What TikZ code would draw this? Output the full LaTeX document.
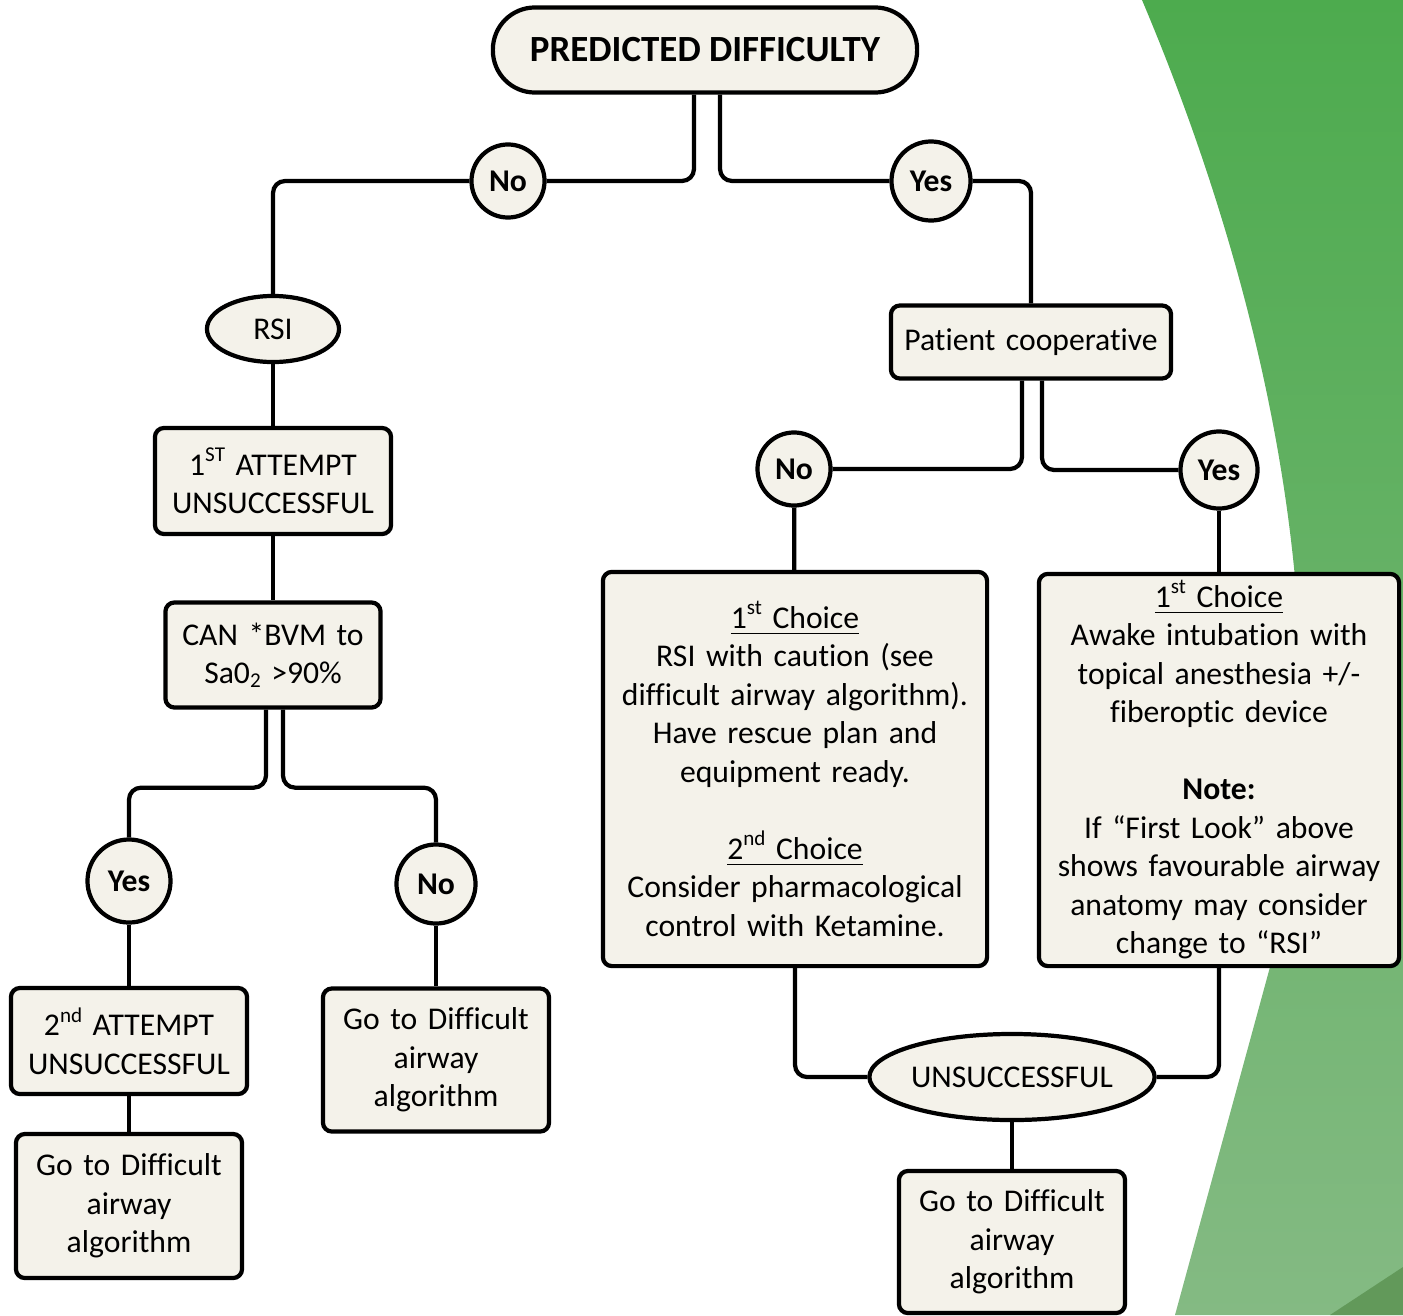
\documentclass[tikz,border=0pt]{standalone}
\usepackage{fontspec}
\setmainfont{Carlito}[Ligatures=NoCommon]
\usetikzlibrary{shapes.geometric}
\scriptspace=0pt
\definecolor{boxfill}{HTML}{F4F2EA}
\definecolor{greenA}{HTML}{4DAB4E}
\definecolor{greenB}{HTML}{84BA83}
\definecolor{greenC}{HTML}{62995A}

\begin{document}
\begin{tikzpicture}[x=0.01cm,y=-0.01cm,
  box/.style={draw,fill=boxfill,line width=1.2pt,rounded corners=0.09cm,align=center,inner sep=0pt,font=\fontsize{9}{10.95}\selectfont},
  yn/.style={draw,fill=boxfill,line width=1.2pt,circle,inner sep=0pt,font=\bfseries\fontsize{9}{10.95}\selectfont},
  oval/.style={draw,fill=boxfill,line width=1.2pt,ellipse,inner sep=0pt,font=\fontsize{9}{10.95}\selectfont},
  conn/.style={line width=1.2pt,rounded corners=0.12cm}]
  \useasboundingbox (0,0) rectangle (1403,1315);

  % Green backdrop
  \shade[top color=greenA,bottom color=greenB] (1142,0) .. controls (1290,350) and (1340,700) .. (1270,967) -- (1175,1315) -- (1403,1315) -- (1403,0) -- cycle;
  \fill[greenC] (1330,1315) -- (1403,1267) -- (1403,1315) -- cycle;

  % Top
  \node[box,rounded corners=0.42cm,minimum width=4.24cm,minimum height=0.85cm,font=\bfseries\fontsize{10.5}{12}\selectfont] (pred) at (705,50) {PREDICTED DIFFICULTY};
  \node[yn,minimum size=0.73cm] (no1) at (508,181) {No};
  \node[yn,minimum size=0.79cm] (yes1) at (931,181) {Yes};

  % Left branch
  \node[oval,minimum width=1.32cm,minimum height=0.66cm] (rsi) at (273,329) {RSI};
  \node[box,text width=2.36cm,minimum height=1.06cm] (att1) at (273,481) {1\textsuperscript{ST} ATTEMPT\\UNSUCCESSFUL};
  \node[box,text width=2.15cm,minimum height=1.05cm] (bvm) at (273,655) {CAN *BVM to\\Sa0\textsubscript{2} >90\%};
  \node[yn,minimum size=0.83cm] (yes2) at (129,881) {Yes};
  \node[yn,minimum size=0.79cm] (no2) at (436,884) {No};
  \node[box,text width=2.36cm,minimum height=1.06cm] (att2) at (129,1041) {2\textsuperscript{nd} ATTEMPT\\UNSUCCESSFUL};
  \node[box,text width=2.26cm,minimum height=1.44cm] (diff1) at (129,1206) {Go to Difficult\\airway\\algorithm};
  \node[box,text width=2.26cm,minimum height=1.43cm] (diff2) at (436,1060) {Go to Difficult\\airway\\algorithm};

  % Right branch
  \node[box,text width=2.80cm,minimum height=0.73cm] (coop) at (1031,342) {Patient cooperative};
  \node[yn,minimum size=0.73cm] (no3) at (794,469) {No};
  \node[yn,minimum size=0.77cm] (yes3) at (1219,470) {Yes};
  \node[box,text width=3.84cm,minimum height=3.94cm] (first1) at (795,769) {\underline{1\textsuperscript{st} Choice}\\RSI with caution (see\\difficult airway algorithm).\\Have rescue plan and\\equipment ready.\\[10.95pt]\underline{2\textsuperscript{nd} Choice}\\Consider pharmacological\\control with Ketamine.};
  \node[box,text width=3.60cm,minimum height=3.92cm] (first2) at (1219,770) {\underline{1\textsuperscript{st} Choice}\\Awake intubation with\\topical anesthesia +/-\\fiberoptic device\\[10.95pt]\textbf{Note:}\\If “First Look” above\\shows favourable airway\\anatomy may consider\\change to “RSI”};
  \node[oval,minimum width=2.64cm,minimum height=0.86cm] (unsucc) at (1012,1077) {UNSUCCESSFUL};
  \node[box,text width=2.26cm,minimum height=1.42cm] (diff3) at (1012,1242) {Go to Difficult\\airway\\algorithm};

  % Connectors
  \draw[conn] ([xshift=-0.11cm]pred.south) |- (no1);
  \draw[conn] (no1) -| (rsi);
  \draw[conn] ([xshift=0.15cm]pred.south) |- (yes1);
  \draw[conn] (yes1) -| (coop);
  \draw[conn] (rsi) -- (att1);
  \draw[conn] (att1) -- (bvm);
  \draw[conn] ([xshift=-0.07cm]bvm.south) -- ++(0,78) -| (yes2);
  \draw[conn] ([xshift=0.1cm]bvm.south) -- ++(0,78) -| (no2);
  \draw[conn] (yes2) -- (att2);
  \draw[conn] (att2) -- (diff1);
  \draw[conn] (no2) -- (diff2);
  \draw[conn] ([xshift=-0.09cm]coop.south) |- (no3);
  \draw[conn] ([xshift=0.11cm]coop.south) |- (yes3);
  \draw[conn] (no3) -- (first1);
  \draw[conn] (yes3) -- (first2);
  \draw[conn] (first1) |- (unsucc);
  \draw[conn] (first2) |- (unsucc);
  \draw[conn] (unsucc) -- (diff3);
\end{tikzpicture}
\end{document}
